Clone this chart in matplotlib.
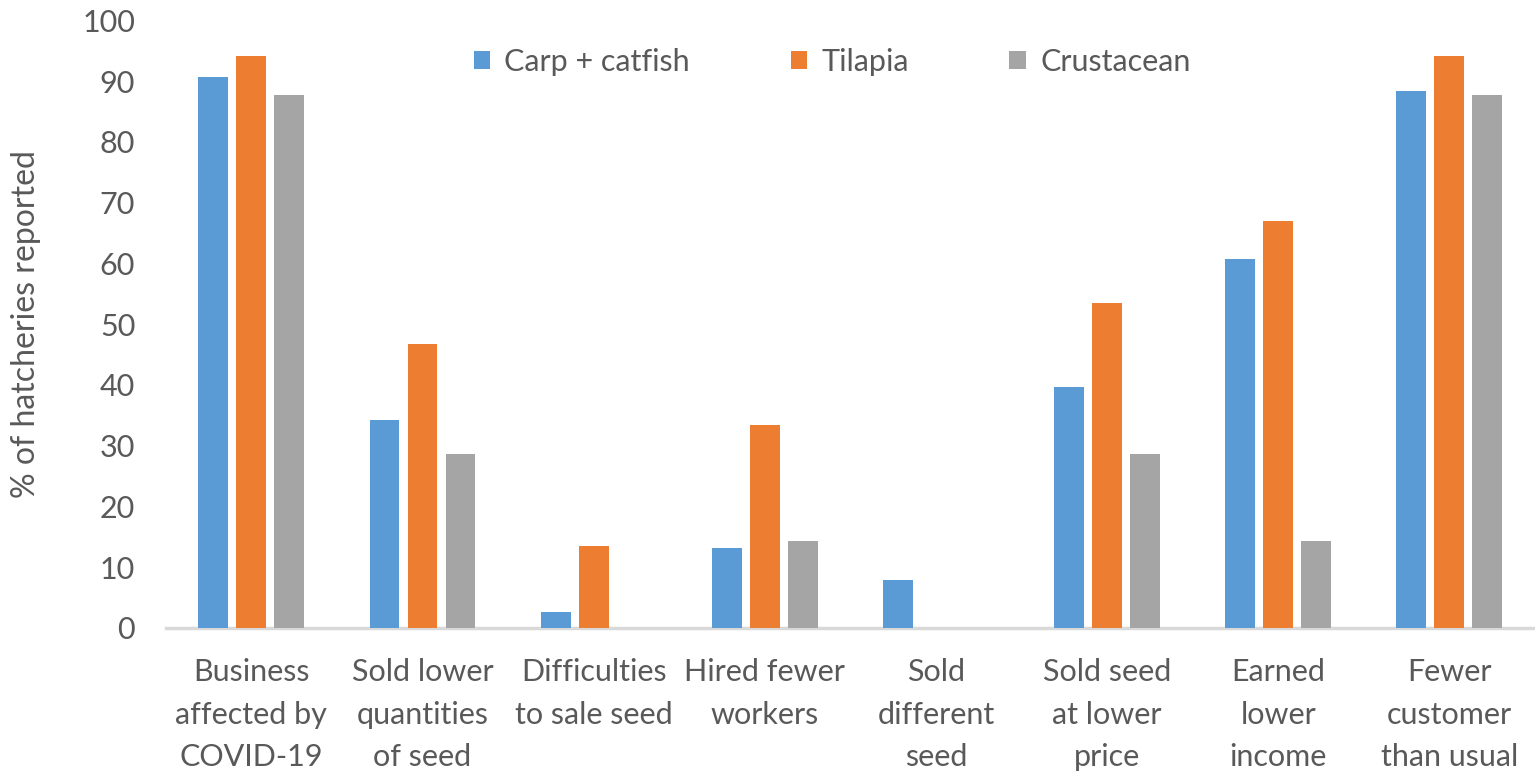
import matplotlib
matplotlib.use("Agg")
import matplotlib.pyplot as plt
import numpy as np

categories = ["Business\naffected by\nCOVID-19", "Sold lower\nquantities\nof seed",
              "Difficulties\nto sale seed", "Hired fewer\nworkers", "Sold\ndifferent\nseed",
              "Sold seed\nat lower\nprice", "Earned\nlower\nincome", "Fewer\ncustomer\nthan usual"]
series_names = ["Carp + catfish", "Tilapia", "Crustacean"]
carp = [90.7, 34.2, 2.6, 13.2, 7.9, 39.6, 60.7, 88.3]
tilapia = [94.1, 46.7, 13.5, 33.4, 0, 53.5, 66.9, 94.1]
crustacean = [87.7, 28.6, 0, 14.3, 0, 28.6, 14.3, 87.7]
yticks = [0, 10, 20, 30, 40, 50, 60, 70, 80, 90, 100]

colors = ["#5B9BD5", "#ED7D31", "#A5A5A5"]
text_color = "#595959"
plt.rcParams['font.family'] = ['Lato', 'DejaVu Sans']

fig = plt.figure(figsize=(15.35, 7.8), dpi=100)
ax = fig.add_axes([0.108, 0.195, 0.892, 0.779])

x = np.arange(len(categories))
w = 0.175
off = 0.222
handles = []
for i, (vals, name) in enumerate(zip([carp, tilapia, crustacean], series_names)):
    b = ax.bar(x + (i - 1) * off, vals, width=w, color=colors[i], label=name, zorder=3)
    handles.append(b)

ax.set_xlim(-0.5, len(categories) - 0.5)
ax.set_ylim(0, 100)
ax.set_yticks(yticks)
ax.set_yticklabels([str(v) for v in yticks], fontsize=22, color=text_color)
ax.set_xticks(x)
ax.set_xticklabels(categories, fontsize=22, color=text_color, linespacing=1.62, va='top')
ax.tick_params(axis='both', length=0)
ax.tick_params(axis='x', pad=22)
ax.tick_params(axis='y', pad=22)
for s in ['top', 'right', 'left']:
    ax.spines[s].set_visible(False)
ax.spines['bottom'].set_color('#D9D9D9')
ax.spines['bottom'].set_linewidth(2.5)
ax.set_ylabel("% of hatcheries reported", fontsize=23, color=text_color, labelpad=30)

leg = fig.legend(handles=handles, labels=series_names, loc='center', bbox_to_anchor=(0.542, 0.921),
                 ncol=3, frameon=False, fontsize=22, labelcolor=text_color,
                 handlelength=0.55, handleheight=0.55, handletextpad=0.45, columnspacing=3.3)

fig.savefig("out.png", dpi=100)
